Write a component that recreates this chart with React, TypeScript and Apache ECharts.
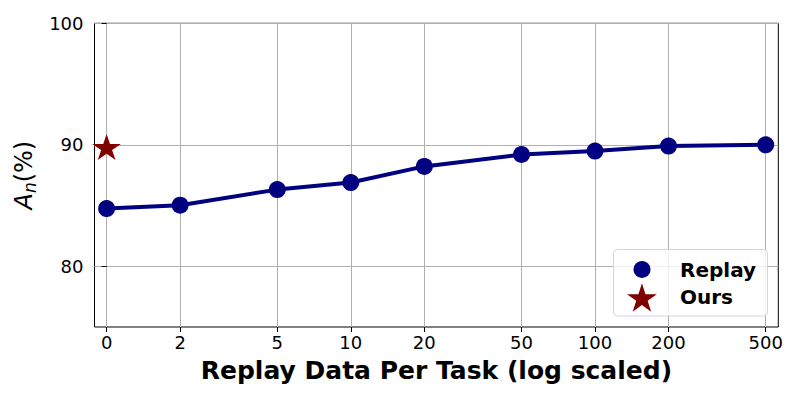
import React, { useEffect, useRef } from "react";
import * as echarts from "echarts";

// ---- data ----
const xTickValues = [0, 2, 5, 10, 20, 50, 100, 200, 500];
const xTickLabels = ["0", "2", "5", "10", "20", "50", "100", "200", "500"];
const replayX = [0, 2, 5, 10, 20, 50, 100, 200, 500];
const replayY = [84.75, 85.03, 86.31, 86.89, 88.22, 89.2, 89.48, 89.89, 90.0];
const oursX = [0];
const oursY = [89.7];
const yTickValues = [80, 90, 100];
const seriesNames = ["Replay", "Ours"];

const FONT = "DejaVu Sans";
const NAVY = "#000080";
const MAROON = "#800000";
const STAR =
  "path://M50 0 L61.23 34.55 L97.55 34.55 L68.17 55.9 L79.39 90.45 L50 69.1 L20.61 90.45 L31.83 55.9 L2.45 34.55 L38.77 34.55 Z";

// "0" is drawn at the position of 1 on the log scale
const xPos = (v: number) => Math.log10(Math.max(v, 1));
const xTickPos = xTickValues.map(xPos);

const labelFor = (val: number) => {
  let best = 0;
  let bestD = Infinity;
  xTickPos.forEach((p, i) => {
    const d = Math.abs(p - val);
    if (d < bestD) {
      bestD = d;
      best = i;
    }
  });
  return xTickLabels[best];
};

const legendText = (pad: number) => ({
  fontFamily: FONT,
  fontSize: 20,
  fontWeight: "bold",
  color: "#000",
  padding: [0, 0, 0, pad],
});

export default function App() {
  const ref = useRef<HTMLDivElement>(null);
  useEffect(() => {
    if (!ref.current) return;
    const chart = echarts.init(ref.current, null, { renderer: "svg" });
    const option: any = {
      animation: false,
      backgroundColor: "#fff",
      grid: {
        left: 94.5,
        right: 21.7,
        top: 23.3,
        bottom: 73,
        show: true,
        borderColor: "#000",
        borderWidth: 1,
        backgroundColor: "transparent",
      },
      xAxis: {
        type: "value",
        min: -0.0496,
        max: 2.7506,
        name: "Replay Data Per Task (log scaled)",
        nameLocation: "middle",
        nameGap: 31,
        nameTextStyle: { fontFamily: FONT, fontSize: 25, fontWeight: "bold", color: "#000" },
        axisLine: { show: false },
        axisTick: {
          show: true,
          customValues: xTickPos,
          length: 5,
          inside: false,
          lineStyle: { color: "#000", width: 1 },
        },
        axisLabel: {
          customValues: xTickPos,
          formatter: (v: number) => labelFor(v),
          fontFamily: FONT,
          fontSize: 18,
          color: "#000",
          margin: 6,
        },
        splitLine: { show: true, lineStyle: { color: "#b0b0b0", width: 1 } },
      },
      yAxis: {
        type: "value",
        min: 75,
        max: 100,
        name: "{a|A}{n|n}{p|(%)}",
        nameLocation: "middle",
        nameRotate: 90,
        nameGap: 53,
        nameTextStyle: {
          rich: {
            a: { fontFamily: FONT, fontSize: 24, fontStyle: "italic", color: "#000", lineHeight: 28 },
            n: {
              fontFamily: FONT,
              fontSize: 17,
              fontStyle: "italic",
              color: "#000",
              lineHeight: 17,
              verticalAlign: "bottom",
            },
            p: { fontFamily: FONT, fontSize: 24, color: "#000", lineHeight: 28 },
          },
        },
        axisLine: { show: false },
        axisTick: {
          show: true,
          customValues: yTickValues,
          length: 5,
          inside: false,
          lineStyle: { color: "#000", width: 1 },
        },
        axisLabel: {
          customValues: yTickValues,
          fontFamily: FONT,
          fontSize: 18,
          color: "#000",
          margin: 11,
        },
        splitLine: { show: true, lineStyle: { color: "#b0b0b0", width: 1 } },
      },
      legend: [
        {
          data: [{ name: seriesNames[0], icon: "circle", itemStyle: { color: NAVY, opacity: 1 } }],
          left: 633.5,
          top: 259.5,
          padding: 0,
          itemWidth: 17,
          itemHeight: 17,
          z: 10,
          textStyle: legendText(24.5),
        },
        {
          data: [{ name: seriesNames[1], icon: STAR, itemStyle: { color: MAROON, opacity: 1 } }],
          left: 627,
          top: 283.3,
          padding: 0,
          itemWidth: 30,
          itemHeight: 28.4,
          symbolKeepAspect: true,
          z: 10,
          textStyle: legendText(18),
        },
      ],
      graphic: [
        {
          type: "rect",
          z: 5,
          shape: { x: 613.5, y: 249.5, width: 154, height: 66.5, r: 4 },
          style: { fill: "rgba(255,255,255,0.8)", stroke: "#d6d6d6", lineWidth: 1 },
        },
      ],
      series: [
        {
          name: seriesNames[0],
          type: "line",
          data: replayX.map((x, i) => [xPos(x), replayY[i]]),
          symbol: "circle",
          symbolSize: 17,
          itemStyle: { color: NAVY, opacity: 1 },
          lineStyle: { color: NAVY, width: 4 },
          z: 3,
        },
        {
          name: seriesNames[1],
          type: "scatter",
          data: oursX.map((x, i) => [xPos(x), oursY[i]]),
          symbol: STAR,
          symbolSize: [28.7, 27.3],
          symbolKeepAspect: true,
          symbolOffset: [0, -1.44],
          itemStyle: { color: MAROON, opacity: 1 },
          z: 4,
        },
      ],
    };
    chart.setOption(option);
    return () => chart.dispose();
  }, []);
  return (
    <div
      ref={ref}
      style={{ position: "fixed", left: 0, top: 0, width: 800, height: 400 }}
    />
  );
}
